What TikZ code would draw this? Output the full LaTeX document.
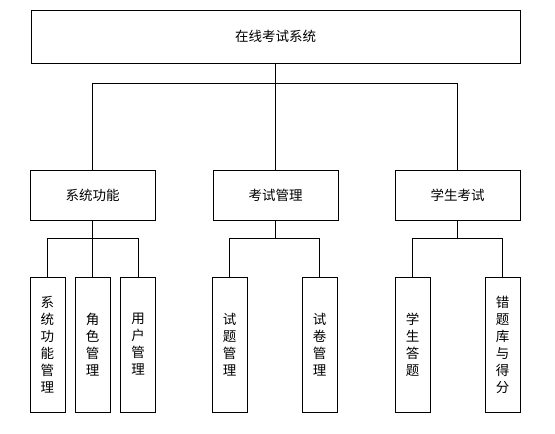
\documentclass[tikz,border=0pt]{standalone}
\usepackage{fontspec}
\newfontfamily\cjk{Noto Sans CJK SC}

\tikzset{
	box/.style={draw, line width=0.9pt, inner sep=0pt, align=center, font=\cjk\fontsize{13.5}{17}\selectfont},
	topbox/.style={box, minimum width=489pt, minimum height=53pt},
	midbox/.style={box, minimum width=125pt, minimum height=50pt},
	leafbox/.style={box, minimum width=35pt, minimum height=135pt},
	link/.style={line width=0.9pt}
}

\begin{document}
\begin{tikzpicture}[x=1pt, y=-1pt]
				\useasboundingbox (0,0) rectangle (555,434);
		
				\node[topbox] (sys) at (275.5,36.5) {在线考试系统};
		
				\node[midbox] (func) at (92.5,195) {系统功能};
				\node[midbox] (exam) at (275.5,195) {考试管理};
				\node[midbox] (stud) at (457.5,195) {学生考试};
		
				\node[leafbox] (funcmgr) at (47.5,344.5) {系\\统\\功\\能\\管\\理};
				\node[leafbox] (rolemgr) at (92.5,344.5) {角\\色\\管\\理};
				\node[leafbox] (usermgr) at (138,344.5) {用\\户\\管\\理};
				\node[leafbox] (quesmgr) at (229.5,344.5) {试\\题\\管\\理};
				\node[leafbox] (papermgr) at (319.5,344.5) {试\\卷\\管\\理};
				\node[leafbox] (answer) at (412.5,344.5) {学\\生\\答\\题};
				\node[leafbox] (wrong) at (502.5,344.5) {错\\题\\库\\与\\得\\分};
		
				\draw[link] (sys.south) -- ++(0,20) coordinate (topbus);
				\draw[link] (topbus) -| (func.north);
				\draw[link] (topbus) -- (exam.north);
				\draw[link] (topbus) -| (stud.north);
		
				\draw[link] (func.south) -- ++(0,18) coordinate (funcbus);
				\draw[link] (funcbus) -| (funcmgr.north);
				\draw[link] (funcbus) -- (rolemgr.north);
				\draw[link] (funcbus) -| (usermgr.north);
		
				\draw[link] (exam.south) -- ++(0,18) coordinate (exambus);
				\draw[link] (exambus) -| (quesmgr.north);
				\draw[link] (exambus) -| (papermgr.north);
		
				\draw[link] (stud.south) -- ++(0,18) coordinate (studbus);
				\draw[link] (studbus) -| (answer.north);
				\draw[link] (studbus) -| (wrong.north);
			\end{tikzpicture}
\end{document}
